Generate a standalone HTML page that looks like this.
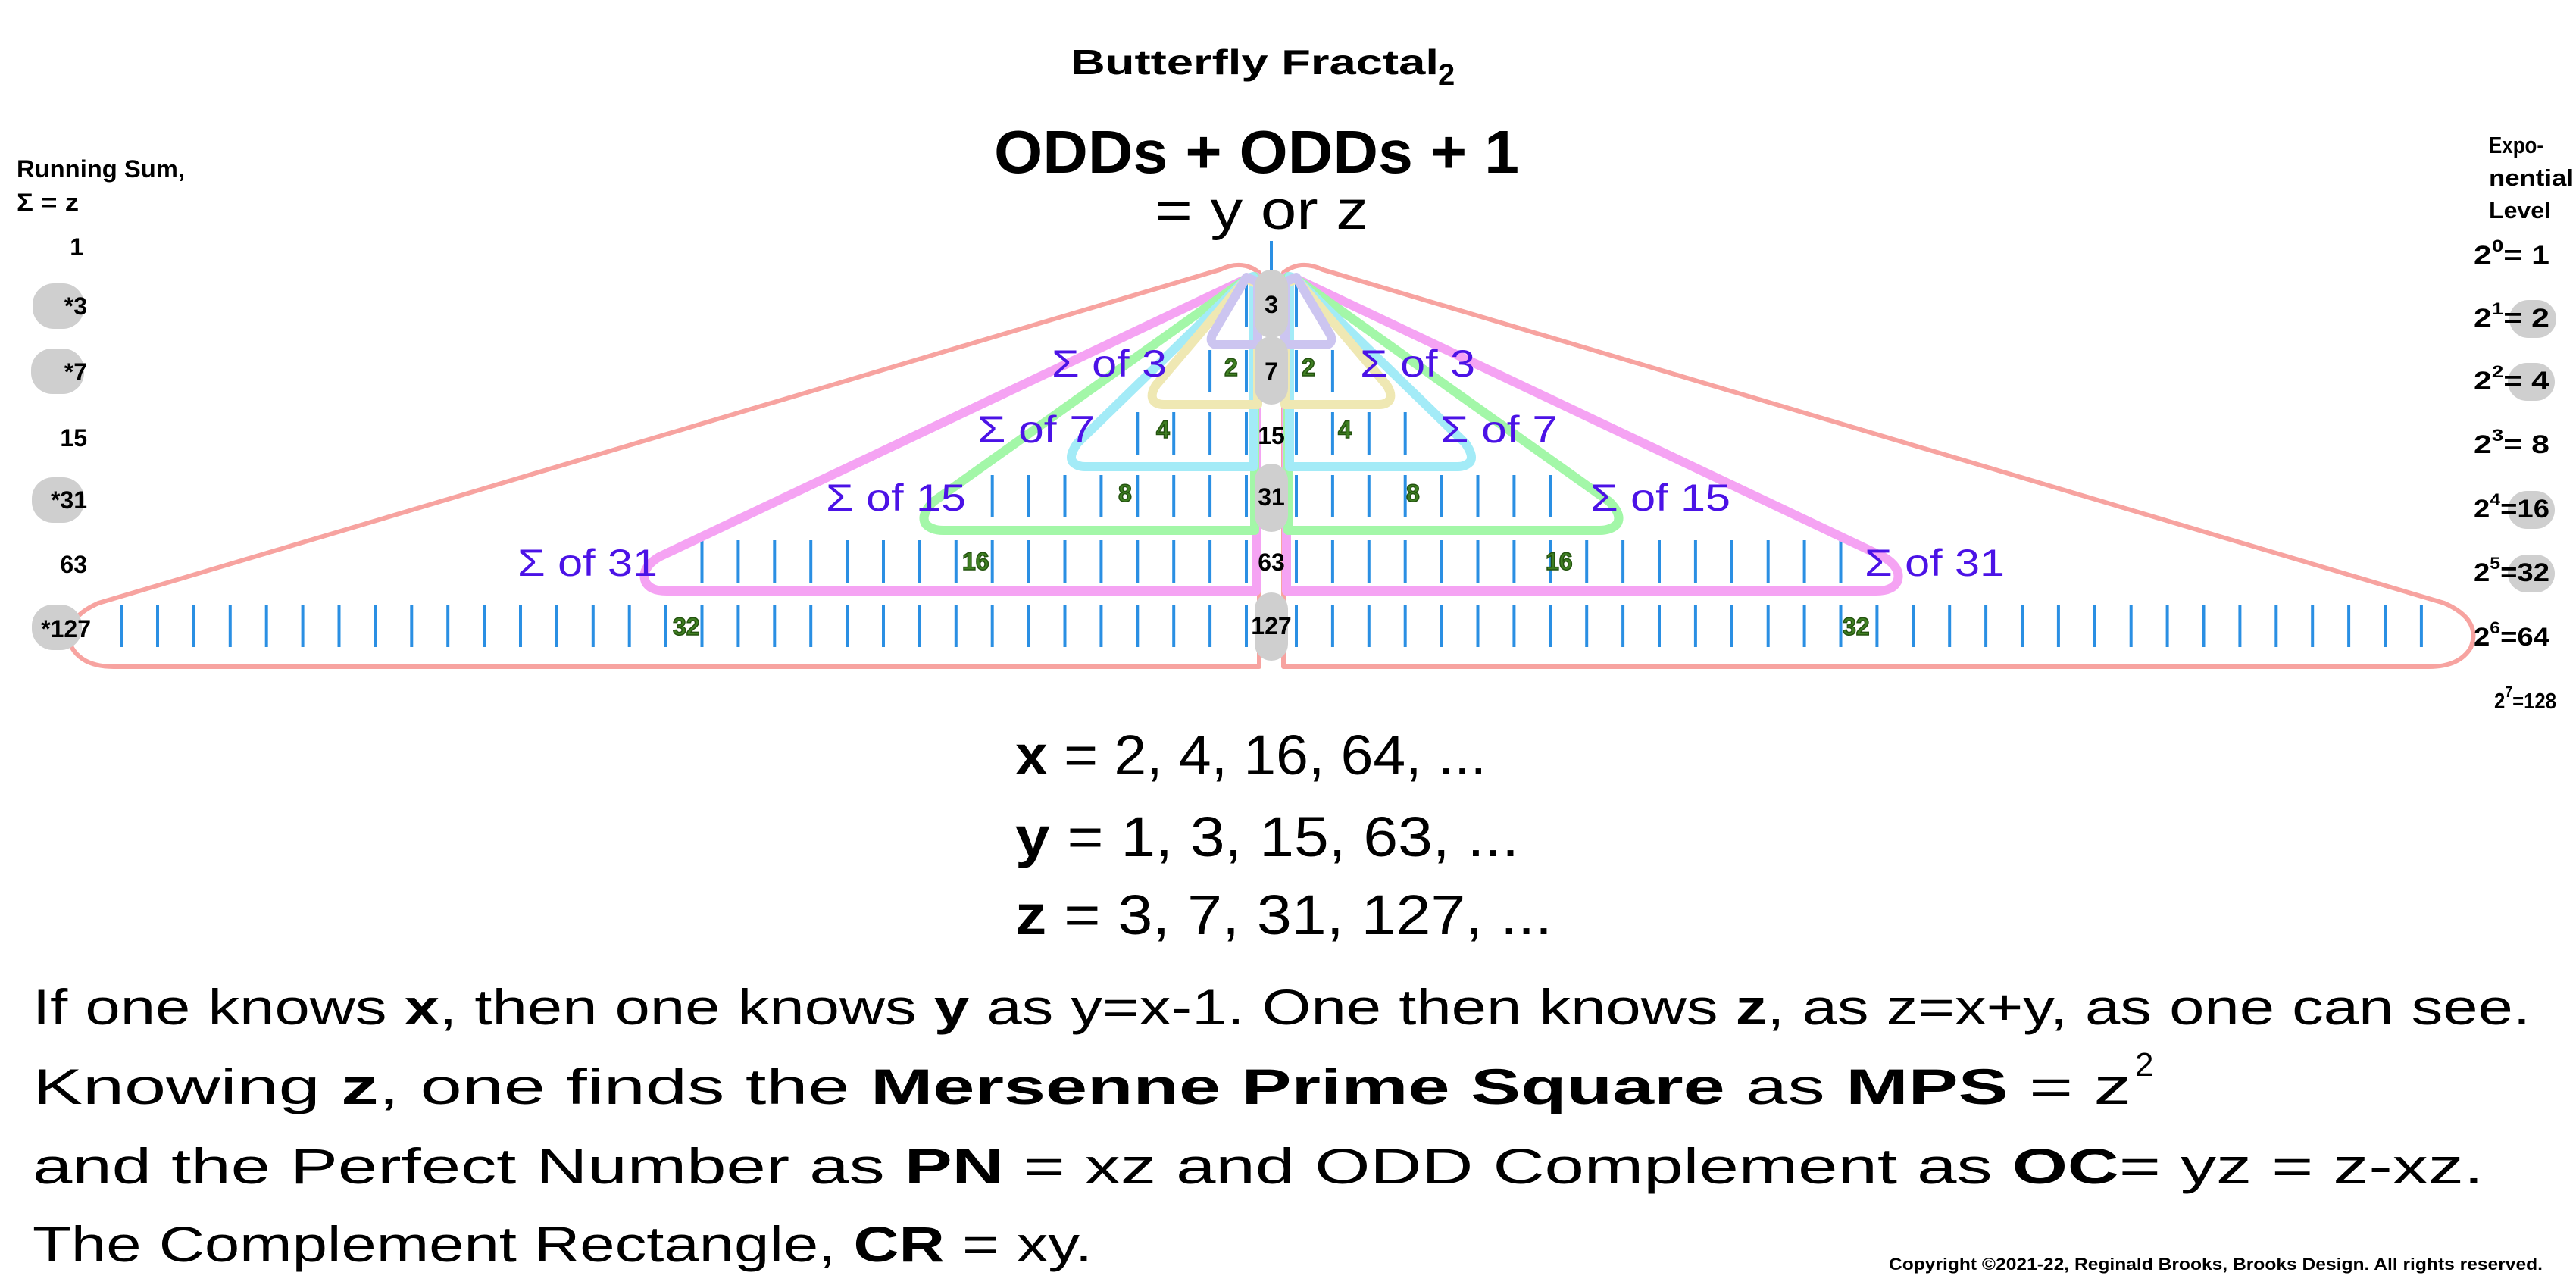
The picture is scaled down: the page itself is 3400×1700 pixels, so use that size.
<!DOCTYPE html>
<html><head><meta charset="utf-8"><style>
html,body{margin:0;padding:0;background:#fff}
svg{display:block}
text{font-family:"Liberation Sans",sans-serif}
.b{font-weight:bold}
.sig{fill:#4b12e6;font-size:50px}
.gn{fill:#3f7f22;stroke:#23520f;stroke-width:1.5px;font-weight:bold;font-size:32px}
.cn{font-weight:bold;font-size:32px;text-anchor:middle}
.ln{font-weight:bold;font-size:32px;text-anchor:end}
.rn{font-weight:bold;font-size:34px}
</style></head><body>
<svg width="3400" height="1700" viewBox="0 0 3400 1700" xmlns="http://www.w3.org/2000/svg">
<defs>
<pattern id="tk" patternUnits="userSpaceOnUse" x="1643" y="0" width="47.9" height="1700">
<rect x="0" y="0" width="4" height="1700" fill="#2a8fe3"/>
</pattern>
<g id="wing">
  <rect x="1641" y="375" width="8" height="56" fill="url(#tk)"/>
  <rect x="1593" y="462" width="56" height="56" fill="url(#tk)"/>
  <rect x="1497" y="544" width="152" height="56" fill="url(#tk)"/>
  <rect x="1306" y="627" width="343" height="56" fill="url(#tk)"/>
  <rect x="923" y="713" width="726" height="56" fill="url(#tk)"/>
  <rect x="157" y="798" width="1492" height="56" fill="url(#tk)"/>
  <path d="M1662,360 Q1640,342 1610,356 L130,796 Q80,818 95,855 Q110,880 150,880 L1662,880 Z" fill="none" stroke="#f7a3a0" stroke-width="6" stroke-linejoin="round"/>
  <path d="M1645,368 L870,735 Q845,750 852,768 Q858,780 880,780 L1658,780 L1658,365 Z" fill="none" stroke="#f5a3f3" stroke-width="12" stroke-linejoin="round"/>
  <path d="M1645,368 L1232,662 Q1214,680 1222,692 Q1230,700 1245,700 L1656,700 L1656,365 Z" fill="none" stroke="#a3f7a8" stroke-width="12" stroke-linejoin="round"/>
  <path d="M1645,368 L1422,585 Q1410,602 1416,610 Q1422,616 1432,616 L1654,616 L1654,365 Z" fill="none" stroke="#a3ebf7" stroke-width="12" stroke-linejoin="round"/>
  <path d="M1645,368 L1526,508 Q1518,520 1522,528 Q1526,534 1536,534 L1660,534 L1660,375 Z" fill="none" stroke="#efe8b3" stroke-width="12" stroke-linejoin="round"/>
  <path d="M1645,366 L1600,442 Q1596,452 1604,455 L1660,455 L1660,372 Z" fill="none" stroke="#ccc5f0" stroke-width="12" stroke-linejoin="round"/>
</g>
</defs>

<use href="#wing"/>
<g transform="translate(3356,0) scale(-1,1)"><use href="#wing"/></g>

<rect x="1676" y="318" width="4" height="56" fill="#2a8fe3"/>

<rect x="1656" y="356" width="44" height="90" rx="22" fill="#cfcfcf"/>
<rect x="1656" y="444" width="44" height="90" rx="22" fill="#cfcfcf"/>
<rect x="1656" y="612" width="44" height="90" rx="22" fill="#cfcfcf"/>
<rect x="1656" y="782" width="44" height="90" rx="22" fill="#cfcfcf"/>
<text class="cn" x="1678" y="413">3</text>
<text class="cn" x="1678" y="501">7</text>
<text class="cn" x="1678" y="586">15</text>
<text class="cn" x="1678" y="667">31</text>
<text class="cn" x="1678" y="753">63</text>
<text class="cn" x="1678" y="837">127</text>

<text class="gn" x="1616" y="496">2</text><text class="gn" x="1718" y="496">2</text>
<text class="gn" x="1526" y="578">4</text><text class="gn" x="1766" y="578">4</text>
<text class="gn" x="1476" y="662">8</text><text class="gn" x="1856" y="662">8</text>
<text class="gn" x="1270" y="752">16</text><text class="gn" x="2040" y="752">16</text>
<text class="gn" x="888" y="838">32</text><text class="gn" x="2432" y="838">32</text>

<text class="sig" x="1388" y="497" textLength="152" lengthAdjust="spacingAndGlyphs">Σ of 3</text>
<text class="sig" x="1795" y="497" textLength="152" lengthAdjust="spacingAndGlyphs">Σ of 3</text>
<text class="sig" x="1290" y="584" textLength="155" lengthAdjust="spacingAndGlyphs">Σ of 7</text>
<text class="sig" x="1901" y="584" textLength="155" lengthAdjust="spacingAndGlyphs">Σ of 7</text>
<text class="sig" x="1090" y="674" textLength="185" lengthAdjust="spacingAndGlyphs">Σ of 15</text>
<text class="sig" x="2099" y="674" textLength="185" lengthAdjust="spacingAndGlyphs">Σ of 15</text>
<text class="sig" x="683" y="760" textLength="185" lengthAdjust="spacingAndGlyphs">Σ of 31</text>
<text class="sig" x="2461" y="760" textLength="185" lengthAdjust="spacingAndGlyphs">Σ of 31</text>

<text class="b" x="1413" y="98" font-size="46" textLength="486" lengthAdjust="spacingAndGlyphs">Butterfly Fractal</text>
<text class="b" x="1898" y="112" font-size="40">2</text>
<text class="b" x="1312" y="228" font-size="80" textLength="693" lengthAdjust="spacingAndGlyphs">ODDs + ODDs + 1</text>
<text x="1524" y="302" font-size="72" textLength="282" lengthAdjust="spacingAndGlyphs">= y or z</text>

<text class="b" x="22" y="234" font-size="32" textLength="222" lengthAdjust="spacingAndGlyphs">Running Sum,</text>
<text class="b" x="22" y="278" font-size="32" textLength="82" lengthAdjust="spacingAndGlyphs">Σ = z</text>
<rect x="43" y="374" width="68" height="60" rx="28" fill="#cfcfcf"/>
<rect x="41" y="460" width="70" height="60" rx="28" fill="#cfcfcf"/>
<rect x="42" y="630" width="69" height="60" rx="28" fill="#cfcfcf"/>
<rect x="42" y="798" width="66" height="60" rx="28" fill="#cfcfcf"/>
<text class="ln" x="110" y="337">1</text>
<text class="ln" x="115" y="415">*3</text>
<text class="ln" x="115" y="502">*7</text>
<text class="ln" x="115" y="589">15</text>
<text class="ln" x="115" y="671">*31</text>
<text class="ln" x="115" y="756">63</text>
<text class="ln" x="120" y="841">*127</text>

<text class="b" x="3285" y="202" font-size="31" textLength="72" lengthAdjust="spacingAndGlyphs">Expo-</text>
<text class="b" x="3285" y="245" font-size="31" textLength="112" lengthAdjust="spacingAndGlyphs">nential</text>
<text class="b" x="3285" y="288" font-size="31" textLength="82" lengthAdjust="spacingAndGlyphs">Level</text>
<rect x="3312" y="396" width="62" height="50" rx="25" fill="#cfcfcf"/>
<rect x="3310" y="479" width="62" height="50" rx="25" fill="#cfcfcf"/>
<rect x="3310" y="648" width="62" height="50" rx="25" fill="#cfcfcf"/>
<rect x="3310" y="732" width="62" height="50" rx="25" fill="#cfcfcf"/>
<g class="rn">
<text x="3265" y="348" textLength="100" lengthAdjust="spacingAndGlyphs">2<tspan dy="-16" font-size="22">0</tspan><tspan dy="16">=  1</tspan></text>
<text x="3265" y="431" textLength="100" lengthAdjust="spacingAndGlyphs">2<tspan dy="-16" font-size="22">1</tspan><tspan dy="16">=  2</tspan></text>
<text x="3265" y="514" textLength="100" lengthAdjust="spacingAndGlyphs">2<tspan dy="-16" font-size="22">2</tspan><tspan dy="16">=  4</tspan></text>
<text x="3265" y="598" textLength="100" lengthAdjust="spacingAndGlyphs">2<tspan dy="-16" font-size="22">3</tspan><tspan dy="16">=  8</tspan></text>
<text x="3265" y="683" textLength="100" lengthAdjust="spacingAndGlyphs">2<tspan dy="-16" font-size="22">4</tspan><tspan dy="16">=16</tspan></text>
<text x="3265" y="767" textLength="100" lengthAdjust="spacingAndGlyphs">2<tspan dy="-16" font-size="22">5</tspan><tspan dy="16">=32</tspan></text>
<text x="3265" y="852" textLength="100" lengthAdjust="spacingAndGlyphs">2<tspan dy="-16" font-size="22">6</tspan><tspan dy="16">=64</tspan></text>
<text x="3292" y="935" font-size="29" textLength="82" lengthAdjust="spacingAndGlyphs">2<tspan dy="-15" font-size="20">7</tspan><tspan dy="15">=128</tspan></text>
</g>

<text x="1340" y="1022" font-size="74" textLength="622" lengthAdjust="spacingAndGlyphs"><tspan class="b">x</tspan> = 2, 4, 16, 64, ...</text>
<text x="1340" y="1130" font-size="74" textLength="665" lengthAdjust="spacingAndGlyphs"><tspan class="b">y</tspan> = 1, 3, 15, 63, ...</text>
<text x="1340" y="1233" font-size="74" textLength="709" lengthAdjust="spacingAndGlyphs"><tspan class="b">z</tspan> = 3, 7, 31, 127, ...</text>

<text x="43" y="1352" font-size="66" textLength="3297" lengthAdjust="spacingAndGlyphs">If one knows <tspan class="b">x</tspan>, then one knows <tspan class="b">y</tspan> as y=x-1. One then knows <tspan class="b">z</tspan>, as z=x+y, as one can see.</text>
<text x="43" y="1457" font-size="66" textLength="2770" lengthAdjust="spacingAndGlyphs">Knowing <tspan class="b">z</tspan>, one finds the <tspan class="b">Mersenne Prime Square</tspan> as <tspan class="b">MPS</tspan> = z</text>
<text x="2818" y="1420" font-size="44">2</text>
<text x="43" y="1562" font-size="66" textLength="3235" lengthAdjust="spacingAndGlyphs">and the Perfect Number as <tspan class="b">PN</tspan> = xz and ODD Complement as <tspan class="b">OC</tspan>= yz = z-xz.</text>
<text x="43" y="1665" font-size="66" textLength="1399" lengthAdjust="spacingAndGlyphs">The Complement Rectangle, <tspan class="b">CR</tspan> = xy.</text>

<text class="b" x="2493" y="1676" font-size="22" textLength="863" lengthAdjust="spacingAndGlyphs">Copyright ©2021-22, Reginald Brooks, Brooks Design. All rights reserved.</text>
</svg>
</body></html>
